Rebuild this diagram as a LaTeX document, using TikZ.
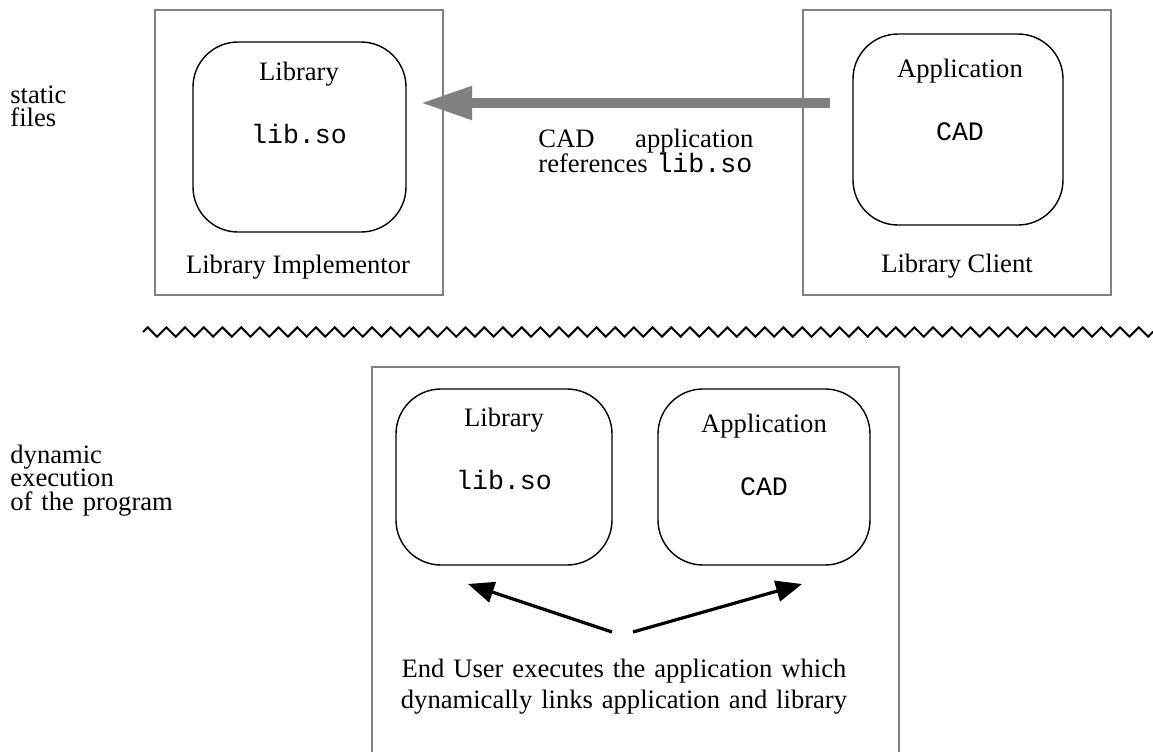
\documentclass[tikz,border=0pt]{standalone}
\usepackage{fontspec}
\setmainfont{Liberation Serif}
\setmonofont{Liberation Mono}
\usetikzlibrary{arrows.meta,decorations.pathmorphing}

\definecolor{framegray}{RGB}{128,128,128}
\tikzset{
	frame/.style={draw=framegray, line width=1pt},
	module/.style={draw, line width=0.7pt, rounded corners=22.5pt, inner sep=0pt, outer sep=0pt},
	txt/.style={font=\fontsize{13.3}{16}\selectfont, inner sep=0pt, anchor=base},
	refarrow/.style={draw=framegray, line width=5.3pt, -{Triangle[length=26pt,width=15.5pt]}},
	linkarrow/.style={line width=1.6pt, -{Triangle[length=13pt,width=10.5pt]}},
}

\begin{document}
\begin{tikzpicture}[x=0.5pt, y=-0.5pt]
		\useasboundingbox (0,0) rectangle (1153,751);
		% left labels
		\node[txt, anchor=base west, text width=110pt, align=left, font=\fontsize{13.3}{11.9}\selectfont] (static) at (10,103) {static\\files};
		\node[txt, anchor=base west, text width=110pt, align=left, font=\fontsize{13.3}{11.9}\selectfont] (dynamic) at (10,463) {dynamic\\execution\\of the program};
		% static files
		\draw[frame] (155,10) rectangle (443,295);
		\draw[frame] (803,10) rectangle (1111,295);
		\node[module, minimum width=106.5pt, minimum height=95pt] (lib) at (299.5,137) {};
		\node[module, minimum width=105pt, minimum height=95.5pt] (app) at (958,129.5) {};
		\node[txt] (libname) at (299,80) {Library};
		\node[txt] (libfile) at (299,143) {\texttt{lib.so}};
		\node[txt] (impl) at (298,273) {Library Implementor};
		\node[txt] (appname) at (960,77) {Application};
		\node[txt] (appfile) at (960,140) {\texttt{CAD}};
		\node[txt] (client) at (957,272) {Library Client};
		\coordinate (reftail) at (830,103);
		\coordinate (refhead) at (420,103);
		\draw[refarrow] (reftail) -- (refhead);
		\node[txt, anchor=base west, text width=107.5pt, align=left, font=\fontsize{13.3}{12.5}\selectfont] (reflabel) at (538,147) {CAD\hfill application\\references \texttt{lib.so}};
		% separator
		\draw[line width=1pt, decorate, decoration={zigzag, segment length=9.35pt, amplitude=2.35pt}] (143,332) -- (1160,332);
		% dynamic execution
		\draw[frame] (372,760) |- (899,367) -- (899,760);
		\node[module, minimum width=108pt, minimum height=88pt] (dlib) at (504,477) {};
		\node[module, minimum width=106pt, minimum height=88pt] (dapp) at (764,477) {};
		\node[txt] (dlibname) at (504,426) {Library};
		\node[txt] (dlibfile) at (504,489) {\texttt{lib.so}};
		\node[txt] (dappname) at (764,432) {Application};
		\node[txt] (dappfile) at (764,495) {\texttt{CAD}};
		\coordinate (user1) at (612,632);
		\coordinate (user2) at (633,632);
		\coordinate (tolib) at (468,584);
		\coordinate (toapp) at (802,584);
		\draw[linkarrow] (user1) -- (tolib);
		\draw[linkarrow] (user2) -- (toapp);
		\node[txt, text width=240pt, align=center, font=\fontsize{13.3}{15.8}\selectfont] (enduser) at (624,677) {End User executes the application which\\dynamically links application and library};
\end{tikzpicture}
\end{document}
